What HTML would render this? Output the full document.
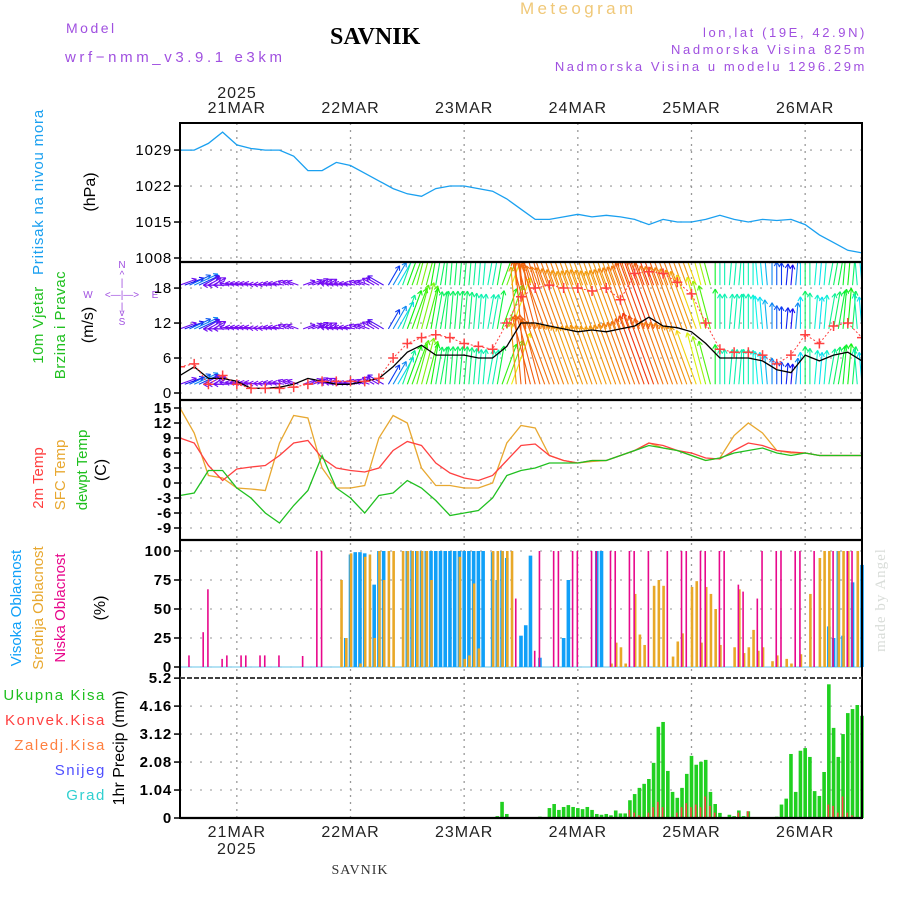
<!DOCTYPE html>
<html><head><meta charset="utf-8"><style>
html,body{margin:0;padding:0;background:#fff;}
svg{display:block;font-family:"Liberation Sans",sans-serif;}
</style></head><body>
<svg id="chart" width="900" height="900" viewBox="0 0 900 900" xmlns="http://www.w3.org/2000/svg">
<defs>
<clipPath id="clipW"><rect x="180" y="263" width="682" height="137"/></clipPath>
<clipPath id="clipP"><rect x="180" y="123" width="682" height="139"/></clipPath>
</defs>
<g>
<text x="66" y="33" font-size="14" fill="#a050e0" letter-spacing="2.5">Model</text>
<text x="65" y="62" font-size="15" fill="#a050e0" letter-spacing="3.6">wrf−nmm_v3.9.1 e3km</text>
<text x="330" y="44" font-size="24" font-weight="bold" font-family="Liberation Serif,serif" fill="#000">SAVNIK</text>
<text x="520" y="14" font-size="17" fill="#f0c878" letter-spacing="3.4">Meteogram</text>
<text x="867" y="37" font-size="13" fill="#a050e0" text-anchor="end" letter-spacing="2.6">lon,lat (19E, 42.9N)</text>
<text x="867" y="54" font-size="13" fill="#a050e0" text-anchor="end" letter-spacing="2.6">Nadmorska Visina 825m</text>
<text x="867" y="71" font-size="13" fill="#a050e0" text-anchor="end" letter-spacing="2.6">Nadmorska Visina u modelu 1296.29m</text>
<text x="237" y="98" font-size="16" text-anchor="middle" fill="#222" letter-spacing="1">2025</text>
<text x="360" y="874" font-size="14" text-anchor="middle" font-family="Liberation Serif,serif" fill="#333" letter-spacing="1">SAVNIK</text>
<text transform="translate(885,600) rotate(-90)" font-size="15" text-anchor="middle" font-family="Liberation Serif,serif" fill="#d8dcd8" letter-spacing="1">made by Angel</text>
</g>
<g>
<text transform="translate(43,192) rotate(-90)" font-size="15" text-anchor="middle" fill="#1aa0f0" letter-spacing="0.8">Pritisak na nivou mora</text>
<text transform="translate(95,192) rotate(-90)" font-size="16" text-anchor="middle" fill="#000">(hPa)</text>
<text transform="translate(43,325) rotate(-90)" font-size="15" text-anchor="middle" fill="#20c020" letter-spacing="0.5">10m Vjetar</text>
<text transform="translate(65,325) rotate(-90)" font-size="15" text-anchor="middle" fill="#20c020" letter-spacing="0.5">Brzina i Pravac</text>
<text transform="translate(93,325) rotate(-90)" font-size="16" text-anchor="middle" fill="#000">(m/s)</text>
<g font-size="10" fill="#a050e0" text-anchor="middle">
<text x="122" y="268">N</text><text x="122" y="278">^</text><text x="122" y="286">|</text>
<text x="88" y="298">W</text><text x="122" y="298">&lt;—|—&gt;</text><text x="155" y="298">E</text>
<text x="122" y="310">|</text><text x="122" y="316">v</text><text x="122" y="325">S</text>
</g>
<text transform="translate(43,478) rotate(-90)" font-size="15" text-anchor="middle" fill="#ff4040">2m Temp</text>
<text transform="translate(65,475) rotate(-90)" font-size="15" text-anchor="middle" fill="#e8a830">SFC Temp</text>
<text transform="translate(87,470) rotate(-90)" font-size="15" text-anchor="middle" fill="#20c020">dewpt Temp</text>
<text transform="translate(106,470) rotate(-90)" font-size="16" text-anchor="middle" fill="#000">(C)</text>
<text transform="translate(21,608) rotate(-90)" font-size="15" text-anchor="middle" fill="#10a0f8">Visoka Oblacnost</text>
<text transform="translate(43,608) rotate(-90)" font-size="15" text-anchor="middle" fill="#e8a830">Srednja Oblacnost</text>
<text transform="translate(65,608) rotate(-90)" font-size="15" text-anchor="middle" fill="#e8088c">Niska Oblacnost</text>
<text transform="translate(105,608) rotate(-90)" font-size="16" text-anchor="middle" fill="#000">(%)</text>
<g font-size="15" text-anchor="end" letter-spacing="1.6">
<text x="106" y="700" fill="#20c020">Ukupna  Kisa</text>
<text x="106" y="725" fill="#ff4040">Konvek.Kisa</text>
<text x="106" y="750" fill="#ff8040">Zaledj.Kisa</text>
<text x="106" y="775" fill="#5050ff">Snijeg</text>
<text x="106" y="800" fill="#30d0d0">Grad</text>
</g>
<text transform="translate(124,748) rotate(-90)" font-size="16" text-anchor="middle" fill="#000">1hr Precip (mm)</text>
</g>
<g id="plots"></g>
</svg>
<script>
// ---- data (3-hourly from 20MAR 12Z, 49 points) ----
const pressure=[1029,1029,1030.3,1032.5,1030,1029.3,1029,1029,1027.8,1025,1025,1026.6,1026,1024.5,1023,1021.5,1020.5,1020,1021.5,1022,1022,1021.5,1021,1019.5,1017.5,1015.5,1015.5,1016,1016.5,1016,1016.3,1016,1015.5,1014.5,1015.5,1015,1015,1015.5,1016.3,1015.5,1015,1015.5,1015.3,1015.5,1014.5,1012.5,1011,1009.5,1009];
const windSpeed=[3,4.5,2.5,2.5,2,0.8,0.8,1,1.5,2.5,2,1.5,1.5,2,2.5,4.5,7,8.2,6.5,6.5,6.5,6,6,8,12,12,11.5,11,10.5,10.8,10.5,11,11.5,13,11.5,11.2,10.5,8.5,6,6,6,5.5,4,3.5,6.5,5.5,6.5,7,5.5];
const windGust=[4.5,5,1.5,3,1.5,0.8,0.8,0.8,1,1.5,2,2,2,2,2.5,6,8.5,9.5,10,9.5,8.5,8,7.5,12,16.5,18,18.5,18,18,17.5,18,16,20.5,20.8,20.5,19,17,12,7.5,7,7,6.5,5,6.5,10,8.5,11.5,12,9.5];
const windDir=[250,245,240,90,100,100,95,100,110,250,240,100,100,110,120,210,200,195,190,185,185,185,190,200,175,165,160,160,160,160,160,160,160,160,160,160,160,165,180,185,180,175,180,185,180,185,190,185,175];
const temp2m=[9,8,3.5,0.5,2.8,3.2,3.5,5.5,8,8.5,5,3,2.5,2.2,3,6.5,8.3,7.5,4,2,1,0.5,1.5,4.5,7.5,7.8,5.5,4.5,4,4.5,4.5,5.5,6.5,8,7.5,6.5,6,5,4.8,6.5,8,7.5,6.5,6.2,6,5.5,5.5,5.5,5.5];
const tempSfc=[15,10,1.5,1,-1,-1.2,-1.5,8,13.5,13,3,-1,-1,-0.5,9,13.5,12,3,-0.5,-0.5,-1,-1,0,8,11.5,11,5.5,4.5,4,4.3,4.5,5.5,6.5,8,7,6.5,5.5,4.5,5,9.5,12,10,6.5,6,6,5.5,5.5,5.5,5.5];
const dewpt=[-2.5,-2,2.5,2.5,-1,-3,-6,-8,-4.5,-1.5,5.5,-1,-3,-6,-2.5,-2,0.5,-1,-3.5,-6.5,-6,-5.5,-3,1.5,2.5,3,4,4,4,4.5,4.5,5.5,6.5,7.5,7,6.5,5.5,4.5,5,6,6.5,7,6,5.5,6,5.5,5.5,5.5,5.5];
// ---- hourly cloud (hour, %) ----
const lowCloud=[[2,10],[5,30],[6,67],[9,7],[10,10],[13,10],[14,10],[17,10],[18,10],[21,10],[26,9.5],[29,100],[30,100],[71,59],[75,14],[76,100],[79,100],[80,100],[83,100],[84,100],[87,100],[88,100],[91,100],[92,100],[95,100],[96,100],[99,100],[103,100],[106,100],[107,100],[110,100],[111,100],[114,100],[115,100],[118,71],[119,65],[122,59],[123,100],[126,100],[127,100],[130,100],[131,100],[134,100],[138,100],[141,100],[142,100]];
const midCloud=[[34,75],[35,25],[36,98],[38,3],[39,95],[40,97],[41,25],[42,100],[43,75],[44,100],[45,100],[47,100],[48,100],[49,100],[50,100],[51,100],[52,100],[53,75],[59,95],[60,7],[61,10],[62,72],[63,16],[66,100],[67,100],[68,100],[69,100],[70,100],[91,3],[92,21],[93,17],[94,3],[96,63],[97,28],[98,19],[100,70],[101,75],[102,70],[104,9],[105,22],[106,29],[108,69],[109,74],[110,21],[111,69],[112,63],[113,50],[114,19],[117,17],[118,67],[119,12],[120,17],[121,32],[122,14],[123,17],[125,5],[126,10],[128,7],[129,3],[131,11],[133,63],[135,94],[136,100],[137,100],[139,100],[140,100],[141,100],[143,100]];
const highCloud=[[35,25],[36,97],[37,99],[38,99],[39,98],[41,71],[42,100],[43,100],[48,100],[49,100],[50,100],[51,100],[52,100],[53,100],[54,100],[55,100],[56,100],[57,100],[58,100],[59,100],[60,100],[61,100],[62,100],[63,100],[64,100],[66,99],[67,75],[68,100],[69,94],[72,27],[73,36],[74,96],[76,8],[81,25],[82,75],[88,100],[89,100],[137,35],[138,25],[139,100],[140,27],[142,73],[144,88]];
// ---- hourly precip (hour, mm) ----
const totalPrecip=[[67,0.07],[68,0.6],[69,0.15],[76,0.05],[78,0.37],[79,0.52],[80,0.3],[81,0.41],[82,0.48],[83,0.41],[84,0.37],[85,0.33],[86,0.41],[87,0.3],[88,0.15],[89,0.12],[90,0.15],[91,0.1],[92,0.28],[93,0.17],[94,0.17],[95,0.66],[96,0.89],[97,1.12],[98,1.27],[99,1.45],[100,2.05],[101,3.39],[102,3.57],[103,1.75],[104,0.97],[105,0.75],[106,1.12],[107,1.64],[108,2.31],[109,1.98],[110,2.09],[111,2.16],[112,0.97],[113,0.52],[114,0.19],[116,0.12],[117,0.07],[118,0.28],[119,0.07],[120,0.25],[121,0.03],[126,0.05],[127,0.5],[128,0.72],[129,2.38],[130,0.97],[131,2.5],[132,2.6],[133,2.27],[134,1.0],[135,0.82],[136,1.71],[137,4.97],[138,3.35],[139,2.27],[140,3.12],[141,3.9],[142,4.05],[143,4.2],[144,3.8]];
const convPrecip=[[95,0.3],[96,0.2],[97,0.1],[99,0.2],[100,0.4],[101,0.6],[102,0.4],[105,0.2],[106,0.4],[107,0.55],[108,0.4],[109,0.5],[110,0.4],[111,0.8],[112,0.45],[113,0.2],[118,0.2],[120,0.25],[137,0.5],[138,0.45],[139,0.2],[140,0.8],[141,0.2],[142,0.1]];
const pTicks=[1008,1015,1022,1029];
const wTicks=[0,6,12,18];
const tTicks=[-9,-6,-3,0,3,6,9,12,15];
const cTicks=[0,25,50,75,100];
const prTicks=["0","1.04","2.08","3.12","4.16","5.2"];
const dayLabels=["21MAR","22MAR","23MAR","24MAR","25MAR","26MAR"];
const dayHours=[12,36,60,84,108,132];

// ---- axes ----
const X0=180,X1=862;
const xH=h=>X0+h*(X1-X0)/144;
const yP=p=>258-(p-1008)*5.14;
const yW=v=>393-v*5.83;
const yT=t=>528-(t+9)*5;
const yC=c=>667-c*1.16;
const yPr=p=>818-p*26.9;
const NS="http://www.w3.org/2000/svg";
const root=document.getElementById('plots');
function mk(tag,attrs,parent){const e=document.createElementNS(NS,tag);for(const k in attrs)e.setAttribute(k,attrs[k]);(parent||root).appendChild(e);return e;}
function grp(name){const g=mk('g',{});return g;}
function poly(arr,yf,color,name,w){const g=grp(name);const pts=arr.map((v,i)=>xH(i*3).toFixed(1)+','+yf(v).toFixed(1)).join(' ');mk('polyline',{points:pts,fill:'none',stroke:color,'stroke-width':w||1.3},g);return g;}

// grid
const grid=grp('grid');
function hgrid(ticks,yf,labels,bold,name){
  const g=grp(name);
  ticks.forEach((t,i)=>{const v=+t;const y=yf(v);
    mk('line',{x1:X0,x2:X1,y1:y,y2:y,stroke:'#aaa','stroke-dasharray':'2,8','stroke-width':1.3},grid);
    mk('line',{x1:X0-6,x2:X0,y1:y,y2:y,stroke:'#000','stroke-width':1.5},g);
    const tx=mk('text',{x:X0-8,y:y+5,'font-size':15,'letter-spacing':0.8,'text-anchor':'end','font-weight':bold?'bold':'normal',fill:'#000'},g);
    tx.textContent=labels?labels[i]:String(t);
  });
}
hgrid(pTicks,yP,null,false,'pressure-y-axis');
hgrid(wTicks,yW,null,false,'wind-y-axis');
hgrid(tTicks,yT,null,true,'temp-y-axis');
hgrid(cTicks,yC,null,true,'cloud-y-axis');
hgrid(prTicks,yPr,prTicks,true,'precip-y-axis');
const xa=grp('x-axis');
dayHours.forEach((h,i)=>{const x=xH(h);
  mk('line',{x1:x,x2:x,y1:123,y2:818,stroke:'#999','stroke-dasharray':'2,5','stroke-width':1.3},grid);
  const t=mk('text',{x:x,y:113,'font-size':16,'letter-spacing':1,'text-anchor':'middle',fill:'#222'},xa);t.textContent=dayLabels[i];
  const b=mk('text',{x:x,y:837,'font-size':16,'letter-spacing':1,'text-anchor':'middle',fill:'#222'},xa);b.textContent=dayLabels[i];
});
{const t=mk('text',{x:xH(12),y:854,'font-size':16,'letter-spacing':1,'text-anchor':'middle',fill:'#222'},xa);t.textContent='2025';}

// pressure
{const g=poly(pressure,yP,'#1aa0f0','pressure-line',1.3);g.setAttribute('clip-path','url(#clipP)');}

// wind arrows
function spdColor(s){const stops=[[0,270],[3,265],[4,220],[5.5,185],[7,120],[9,70],[10.5,38],[12.5,15],[14,0],[16,330]];
  let h=stops[stops.length-1][1];for(let k=0;k<stops.length-1;k++){if(s>=stops[k][0]&&s<stops[k+1][0]){const f=(s-stops[k][0])/(stops[k+1][0]-stops[k][0]);h=stops[k][1]+f*(stops[k+1][1]-stops[k][1]);break;}}
  return 'hsl('+h.toFixed(0)+',90%,50%)';}
const wg=grp('wind-arrows');wg.setAttribute('clip-path','url(#clipW)');
const rowBases=[1.5,11,18.5];
for(let hh=0;hh<=144;hh++){
  const i=Math.min(47,Math.floor(hh/3)),f=(hh-i*3)/3;
  const s=windSpeed[i]*(1-f)+windSpeed[i+1]*f;
  const dir=f<0.5?windDir[i]:windDir[i+1];
  const to=(dir+180)*Math.PI/180;const L=Math.max(s,2)*5.83;
  const dx=Math.sin(to)*L,dy=-Math.cos(to)*L;const col=spdColor(s);
  rowBases.forEach(b=>{const x=xH(hh),y=yW(b);const x2=x+dx,y2=y+dy;
    const a=mk('g',{stroke:col,'stroke-width':1.1,fill:'none'},wg);
    
    mk('line',{x1:x,y1:y,x2:x2,y2:y2},a);
    const ang=Math.atan2(dy,dx);
    [2.6,-2.6].forEach(o=>mk('line',{x1:x2,y1:y2,x2:x2-5*Math.cos(ang+o*0.2),y2:y2-5*Math.sin(ang+o*0.2)},a));
  });
}
{const g=poly(windSpeed,yW,'#000','wind-speed-line',1.3);g.setAttribute('clip-path','url(#clipW)');}
{const g=grp('wind-gust');g.setAttribute('clip-path','url(#clipW)');
 mk('polyline',{points:windGust.map((v,i)=>xH(i*3)+','+yW(v)).join(' '),fill:'none',stroke:'#ff4040','stroke-width':1,'stroke-dasharray':'2,2'},g);
 windGust.forEach((v,i)=>{const x=xH(i*3),y=yW(v);
   const c=mk('path',{d:`M${x-5},${y}H${x+5}M${x},${y-5}V${y+5}`,stroke:'#ff4040','stroke-width':1.5},g);
   });}

// temperature
poly(tempSfc,yT,'#e8a830','sfc-temp-line',1.3);
poly(temp2m,yT,'#ff4040','t2m-line',1.3);
poly(dewpt,yT,'#20c020','dewpt-line',1.3);

// clouds
mk('line',{x1:X0,x2:X1,y1:yC(0),y2:yC(0),stroke:'#9ad8f0','stroke-width':1.5});
function bars(arr,yf,color,w,off,name){const g=grp(name);
  arr.forEach(([h,v])=>{const x=xH(h)+off;const y=yf(v);
    const r=mk('rect',{x:x-w/2,y:y,width:w,height:Math.max(0,yf(0)-y),fill:color},g);
    });}
bars(highCloud,yC,'#10a0f8',3.6,0,'high-cloud');
bars(midCloud,yC,'#e8a828',2.6,0.5,'mid-cloud');
bars(lowCloud,yC,'#e8088c',1.6,-0.5,'low-cloud');

// precip
bars(totalPrecip,yPr,'#20d020',3.6,0,'total-precip');
bars(convPrecip,yPr,'#ff4040',1.6,-0.5,'conv-precip');

// frames
const fr=grp('panel-frames');
mk('rect',{x:X0,y:123,width:X1-X0,height:695,fill:'none',stroke:'#000','stroke-width':2},fr);
[262,400,540].forEach(y=>mk('line',{x1:X0,x2:X1,y1:y,y2:y,stroke:'#000','stroke-width':2.2},fr));
mk('line',{x1:X0,x2:X1,y1:678,y2:678,stroke:'#fff','stroke-width':2.2},fr);
mk('line',{x1:X0,x2:X1,y1:678,y2:678,stroke:'#000','stroke-width':1.6,'stroke-dasharray':'5,2'},fr);
mk('line',{x1:X0,x2:X1,y1:818,y2:818,stroke:'#000','stroke-width':2.2},fr);
</script>
</body></html>
